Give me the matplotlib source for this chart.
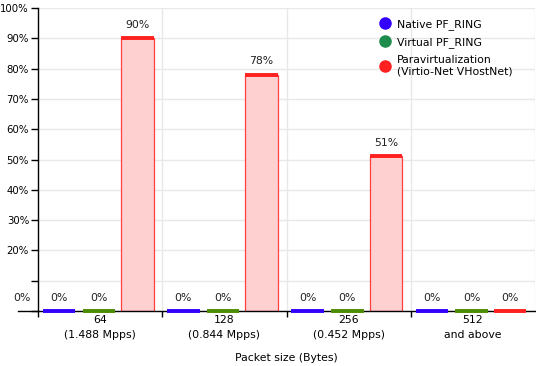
import numpy as np
import matplotlib.pyplot as plt
from matplotlib.lines import Line2D

# dados
grupos = ["64\n(1.488 Mpps)", "128\n(0.844 Mpps)", "256\n(0.452 Mpps)", "512\nand above"]
series = ["Native PF_RING", "Virtual PF_RING", "Paravirtualization\n(Virtio-Net VHostNet)"]
native = [0, 0, 0, 0]
virtual = [0, 0, 0, 0]
paravirt = [90, 78, 51, 0]

cores_barra = ["#3300ff", "#4c8c00", "#ff2020"]
cores_legenda = ["#3300ff", "#1e8c4a", "#ff2020"]
offsets = [-0.33, -0.01, 0.30]
largura = 0.26
fs = 7.8

plt.rcParams['font.family'] = ['DejaVu Sans']
plt.rcParams['font.size'] = fs

fig = plt.figure(figsize=(5.36, 3.66), dpi=100)
ax = fig.add_axes([38 / 536, 55 / 366, 497 / 536, 303 / 366])

x = np.arange(len(grupos))
for valores, cor, off in zip([native, virtual, paravirt], cores_barra, offsets):
    xs = x + off
    ax.bar(xs, valores, width=largura, color="#ffd0d0", edgecolor="#ff4040",
           linewidth=0.9, zorder=2)
    for xi, v in zip(xs, valores):
        ax.plot([xi - largura / 2, xi + largura / 2], [v, v], color=cor,
                lw=2.8, solid_capstyle='butt', zorder=3, clip_on=False)
        ax.text(xi, v + 2.8, f"{v}%", ha='center', va='bottom', fontsize=fs,
                color="#222222")

ax.set_xlim(-0.5, 3.5)
ax.set_ylim(0, 100)
ax.set_yticks(np.arange(0, 101, 10))
ax.set_yticklabels([""] + [""] + [f"{v}%" for v in range(20, 101, 10)])
ax.text(-0.56, 2.5, "0%", ha='right', va='bottom', fontsize=fs, color="#222222")
ax.tick_params(axis='y', length=5, width=1, pad=1.5, labelsize=7.3)

ax.set_xticks([-0.5, 0.5, 1.5, 2.5])
ax.set_xticklabels([])
ax.set_xticks(x, minor=True)
ax.set_xticklabels(grupos, minor=True, fontsize=fs, linespacing=1.55)
ax.tick_params(axis='x', which='major', length=4, width=1)
ax.tick_params(axis='x', which='minor', length=0, pad=3)

ax.grid(axis='y', color="#e8e8e8", lw=1, zorder=0)
for gx in [0.5, 1.5, 2.5, 3.5]:
    ax.axvline(gx, color="#e8e8e8", lw=1, zorder=0)

for s in ['top', 'right']:
    ax.spines[s].set_visible(False)
ax.spines['left'].set_linewidth(1)
ax.spines['bottom'].set_linewidth(1)
ax.plot([-0.66, -0.5], [0, 0], color='black', lw=1, clip_on=False)

ax.set_xlabel("Packet size (Bytes)", fontsize=fs, labelpad=10)

handles = [Line2D([], [], marker='o', ls='', ms=8, color=c) for c in cores_legenda]
ax.legend(handles, series, loc='upper right', bbox_to_anchor=(0.975, 0.995),
          frameon=False, handletextpad=0.5, labelspacing=0.65, fontsize=fs,
          handlelength=1.2)

fig.savefig("out.png", dpi=100)
